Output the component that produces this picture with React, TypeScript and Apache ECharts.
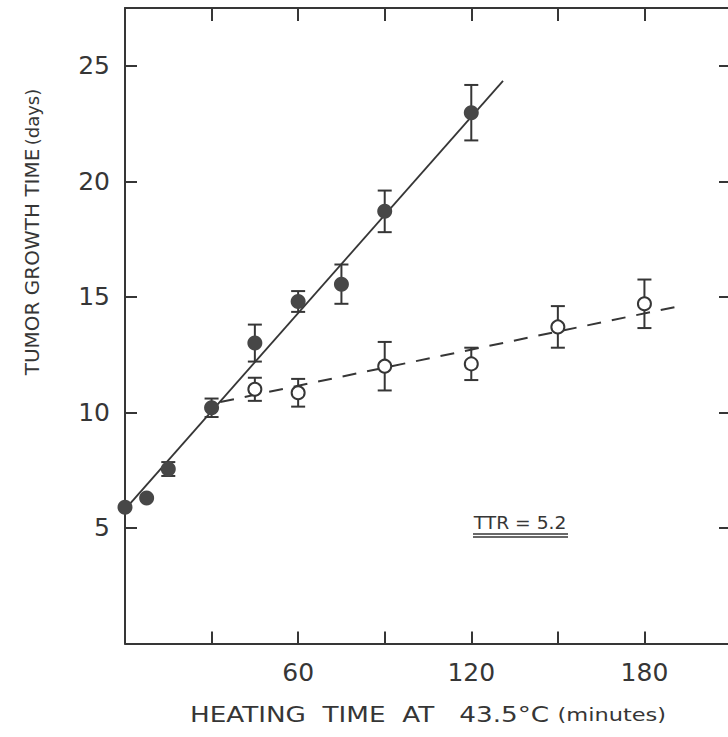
import React, { useEffect, useRef } from "react";
import * as echarts from "echarts";

// ---- data ----
const filledX = [0, 7.5, 15, 30, 45, 60, 75, 90, 120];
const filledY = [5.9, 6.3, 7.55, 10.2, 13.0, 14.8, 15.55, 18.7, 22.97];
const filledErr = [0, 0, 0.3, 0.4, 0.8, 0.45, 0.85, 0.9, 1.2];

const openX = [45, 60, 90, 120, 150, 180];
const openY = [11.0, 10.85, 12.0, 12.1, 13.7, 14.7];
const openErr = [0.5, 0.6, 1.05, 0.7, 0.9, 1.05];

const solidFitX = [0, 131];
const solidFitY = [5.8, 24.35];
const dashedFitX = [33, 191];
const dashedFitY = [10.45, 14.57];

const xTickLabels = [60, 120, 180];
const yTickLabels = [5, 10, 15, 20, 25];

const FONT = "DejaVu Sans";
const INK = "#363636";

const zip = (xs: number[], ys: number[]) => xs.map((x, i) => [x, ys[i]]);
const errData = (xs: number[], ys: number[], es: number[]) =>
  xs.map((x, i) => [x, ys[i] - es[i], ys[i] + es[i]]);

const errorRender = (params: any, api: any) => {
  const x = api.value(0);
  const lo = api.value(1);
  const hi = api.value(2);
  if (hi - lo <= 0) return null;
  const p1 = api.coord([x, lo]);
  const p2 = api.coord([x, hi]);
  const w = 7;
  const style = { stroke: INK, lineWidth: 2, fill: null };
  return {
    type: "group",
    children: [
      { type: "line", shape: { x1: p1[0], y1: p1[1], x2: p2[0], y2: p2[1] }, style },
      { type: "line", shape: { x1: p1[0] - w, y1: p1[1], x2: p1[0] + w, y2: p1[1] }, style },
      { type: "line", shape: { x1: p2[0] - w, y1: p2[1], x2: p2[0] + w, y2: p2[1] }, style },
    ],
  };
};

export default function App() {
  const ref = useRef<HTMLDivElement>(null);
  useEffect(() => {
    if (!ref.current) return;
    const chart = echarts.init(ref.current, null, { renderer: "svg" });
    const axisLine = { show: true, onZero: false, lineStyle: { color: INK, width: 2 } };
    const tick = (len: number) => ({
      show: true,
      inside: true,
      length: len,
      lineStyle: { color: INK, width: 2 },
    });
    const option: any = {
      animation: false,
      backgroundColor: "#ffffff",
      grid: {
        left: 125,
        top: 8,
        right: -3,
        bottom: 93.5,
        containLabel: false,
        outerBoundsMode: "none",
      },
      xAxis: [
        {
          type: "value",
          position: "bottom",
          min: 0,
          max: 210,
          interval: 30,
          axisLine,
          splitLine: { show: false },
          axisTick: tick(12),
          axisLabel: {
            show: true,
            margin: 16,
            fontFamily: FONT,
            fontSize: 25,
            color: INK,
            formatter: (v: number) => (xTickLabels.includes(v) ? String(v) : ""),
          },
        },
        {
          type: "value",
          position: "top",
          min: 0,
          max: 210,
          interval: 30,
          axisLine,
          splitLine: { show: false },
          axisTick: tick(13),
          axisLabel: { show: false },
        },
      ],
      yAxis: [
        {
          type: "value",
          position: "left",
          min: 0,
          max: 27.5,
          interval: 5,
          axisLine,
          splitLine: { show: false },
          axisTick: tick(12),
          axisLabel: {
            show: true,
            margin: 15,
            fontFamily: FONT,
            fontSize: 25,
            color: INK,
            showMaxLabel: false,
            formatter: (v: number) => (yTickLabels.includes(v) ? String(v) : ""),
          },
        },
        {
          type: "value",
          position: "right",
          min: 0,
          max: 27.5,
          interval: 5,
          axisLine,
          splitLine: { show: false },
          axisTick: tick(12),
          axisLabel: { show: false },
        },
      ],
      graphic: [
        {
          type: "text",
          x: 32,
          y: 232,
          rotation: Math.PI / 2,
          style: {
            text: "{a|TUMOR GROWTH TIME} {b|(days)}",
            align: "center",
            verticalAlign: "middle",
            rich: {
              a: { fontFamily: FONT, fontSize: 20, fill: INK },
              b: { fontFamily: FONT, fontSize: 18, fill: INK },
            },
          },
        },
        {
          type: "text",
          x: 428,
          y: 715,
          scaleX: 1.25,
          style: {
            text: "{a|HEATING  TIME  AT   43.5°C}  {b|(minutes)}",
            align: "center",
            verticalAlign: "middle",
            rich: {
              a: { fontFamily: FONT, fontSize: 21, fill: INK },
              b: { fontFamily: FONT, fontSize: 18, fill: INK },
            },
          },
        },
        {
          type: "text",
          x: 520,
          y: 523,
          scaleX: 1.1,
          style: {
            text: "TTR = 5.2",
            align: "center",
            verticalAlign: "middle",
            fontFamily: FONT,
            fontSize: 17,
            fill: INK,
          },
        },
        {
          type: "line",
          shape: { x1: 473, y1: 534, x2: 568, y2: 534 },
          style: { stroke: INK, lineWidth: 1.3 },
        },
        {
          type: "line",
          shape: { x1: 473, y1: 537, x2: 568, y2: 537 },
          style: { stroke: INK, lineWidth: 1.3 },
        },
      ],
      series: [
        {
          type: "line",
          data: zip(solidFitX, solidFitY),
          showSymbol: false,
          lineStyle: { color: INK, width: 1.8 },
          z: 2,
        },
        {
          type: "line",
          data: zip(dashedFitX, dashedFitY),
          showSymbol: false,
          lineStyle: { color: INK, width: 2, type: [14, 11] },
          z: 2,
        },
        {
          type: "custom",
          data: errData(filledX, filledY, filledErr),
          renderItem: errorRender,
          encode: { x: 0, y: [1, 2] },
          z: 3,
        },
        {
          type: "custom",
          data: errData(openX, openY, openErr),
          renderItem: errorRender,
          encode: { x: 0, y: [1, 2] },
          z: 3,
        },
        {
          type: "scatter",
          data: zip(filledX, filledY),
          symbol: "circle",
          symbolSize: 15,
          itemStyle: { color: "#474747", opacity: 1 },
          z: 4,
        },
        {
          type: "scatter",
          data: zip(openX, openY),
          symbol: "circle",
          symbolSize: 13,
          itemStyle: { color: "#ffffff", borderColor: INK, borderWidth: 2, opacity: 1 },
          z: 4,
        },
      ],
    };
    chart.setOption(option);
    return () => chart.dispose();
  }, []);
  return <div ref={ref} style={{ width: 728, height: 737, position: "absolute", left: 0, top: 0 }} />;
}
